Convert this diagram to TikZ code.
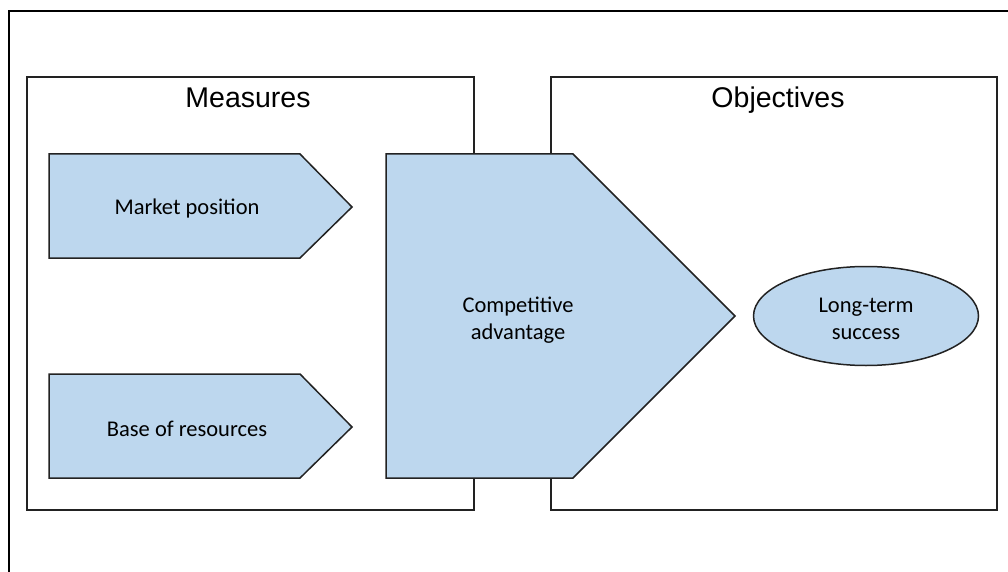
\documentclass[tikz,border=0pt]{standalone}
\usepackage{fontspec}
\setmainfont{Liberation Sans}
\newfontfamily\calibri{Carlito}
\usetikzlibrary{shapes.geometric}
\definecolor{shapefill}{HTML}{BDD7EE}
\definecolor{edgecol}{HTML}{222222}
\begin{document}
\begin{tikzpicture}[x=1pt,y=-1pt,
  frame/.style={draw=black,line width=1.4pt},
  panel/.style={draw=edgecol,line width=1.4pt},
  bluefig/.style={draw=edgecol,fill=shapefill,line width=1.5pt,line join=miter},
  title/.style={font=\fontsize{28.5}{32}\selectfont,anchor=base},
  body/.style={font=\calibri\fontsize{22.5}{27.5}\selectfont,align=center,anchor=center}]
\useasboundingbox (0,0) rectangle (1008,572);
\clip (0,0) rectangle (1008,572);
% outer frame (extends beyond the page)
\draw[frame] (9,600) -- (9,11) -- (1030,11);
% panels
\draw[panel] (27,77) rectangle (474,510);
\draw[panel] (551,77) rectangle (997,510);
\node[title] (measures) at (248,108) {Measures};
\node[title] (objectives) at (778,108) {Objectives};
% market position
\draw[bluefig] (49,154) -- (300,154) -- (352,207) -- (300,258) -- (49,258) -- cycle;
\node[body] (market) at (187,209) {Market position};
% base of resources
\draw[bluefig] (49,374) -- (300,374) -- (352,427) -- (300,478) -- (49,478) -- cycle;
\node[body] (base) at (187,429) {Base of resources};
% competitive advantage
\draw[bluefig] (386,154) -- (573,154) -- (735,316) -- (573,478) -- (386,478) -- cycle;
\node[body] (comp) at (518,320) {Competitive\\advantage};
% long-term success
\node[ellipse,bluefig,minimum width=225pt,minimum height=99pt,inner sep=0pt] (success) at (866,316) {};
\node[body] (successtext) at ([yshift=-3pt]success.center) {Long-term\\success};
\end{tikzpicture}
\end{document}
